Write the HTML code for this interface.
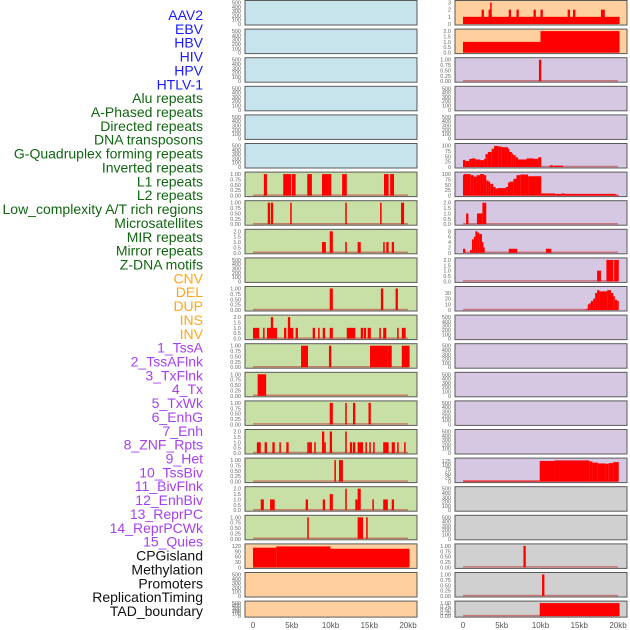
<!DOCTYPE html>
<html><head><meta charset="utf-8"><style>
html,body{margin:0;padding:0;background:#fff}
svg{display:block}
</style></head><body>
<svg id="chart" width="630" height="630" viewBox="0 0 630 630" xmlns="http://www.w3.org/2000/svg"></svg>
<script>
const trackLabels = ["AAV2","EBV","HBV","HIV","HPV","HTLV-1","Alu repeats","A-Phased repeats","Directed repeats","DNA transposons","G-Quadruplex forming repeats","Inverted repeats","L1 repeats","L2 repeats","Low_complexity A/T rich regions","Microsatellites","MIR repeats","Mirror repeats","Z-DNA motifs","CNV","DEL","DUP","INS","INV","1_TssA","2_TssAFlnk","3_TxFlnk","4_Tx","5_TxWk","6_EnhG","7_Enh","8_ZNF_Rpts","9_Het","10_TssBiv","11_BivFlnk","12_EnhBiv","13_ReprPC","14_ReprPCWk","15_Quies","CPGisland","Methylation","Promoters","ReplicationTiming","TAD_boundary"];
const labelColors = ["#1a1aff","#1a1aff","#1a1aff","#1a1aff","#1a1aff","#1a1aff","#116611","#116611","#116611","#116611","#116611","#116611","#116611","#116611","#116611","#116611","#116611","#116611","#116611","#ffa51a","#ffa51a","#ffa51a","#ffa51a","#ffa51a","#a640f0","#a640f0","#a640f0","#a640f0","#a640f0","#a640f0","#a640f0","#a640f0","#a640f0","#a640f0","#a640f0","#a640f0","#a640f0","#a640f0","#a640f0","#111","#111","#111","#111","#111"];
const xTickValues = [0,5000,10000,15000,20000];
const xTickLabels = ["0","5kb","10kb","15kb","20kb"];
const T500 = [0,100,200,300,400,500];
const T1 = [0,0.25,0.5,0.75,1.0];
const T2 = [0,0.5,1.0,1.5,2.0];
const L6 = [[1.4,1.8,1],[3.9,4.9,1],[5.0,5.5,1],[7.0,7.6,1],[8.9,9.8,1],[9.8,10.1,1],[11.5,12.1,1],[16.9,17.5,1],[17.7,18.2,1]];
const L7 = [[1.9,2.2,1],[2.3,2.6,1],[4.8,5.0,1],[11.9,12.1,1],[16.4,16.6,1],[19.1,19.5,1]];
const L8 = [[8.9,9.4,1],[9.9,10.3,2],[11.9,12.1,1],[13.5,13.9,1],[16.8,17.0,1],[17.2,17.5,1],[17.9,18.2,1]];
const L10 = [[9.9,10.3,1],[16.5,16.8,1],[18.4,18.7,1]];
const L11 = [[0,0.8,1],[1.3,1.5,1],[1.8,3.1,1],[2.3,2.6,2],[4.0,4.3,1],[4.5,5.2,1],[4.5,4.8,2],[5.5,5.8,1],[7.7,8.0,1],[8.4,8.6,1],[9.0,9.3,1],[9.9,10.3,1],[12.1,13.2,1],[13.9,14.2,1],[14.3,14.6,1],[14.8,15.2,1],[16.3,16.5,1],[16.8,17.2,1],[18.6,18.8,1],[19.2,19.7,1]];
const L12 = [[6.2,7.1,1],[9.8,10.1,1],[15.1,17.3,1],[17.3,17.9,1],[19.2,20.2,1]];
const L13 = [[0.6,1.7,1]];
const L14 = [[9.9,10.3,1],[11.9,12.1,1],[12.9,13.2,1],[14.9,15.2,1]];
const L15 = [[0.5,1.0,1],[1.5,1.8,1],[2.5,2.8,1],[3.4,3.6,1],[4.3,4.6,1],[7.0,7.2,1],[7.2,7.6,1],[7.9,8.1,1],[8.9,9.2,2],[9.2,9.4,1],[9.9,10.2,2],[11.9,12.1,2],[12.5,12.8,1],[12.9,13.2,1],[13.5,14.2,1],[14.5,14.7,1],[15.0,15.2,1],[15.5,15.7,1],[16.8,17.5,1],[17.9,18.3,1],[18.6,18.8,1],[19.5,19.7,1]];
const L16 = [[10.5,10.7,1],[11.1,11.6,1]];
const L17 = [[1.0,1.4,1],[2.2,2.8,1],[6.8,7.1,1],[9.0,9.3,1],[9.9,10.3,1.5],[11.9,12.1,2],[13.2,13.5,1],[13.5,13.9,2],[15.4,15.6,1],[16.8,17.4,1],[17.9,18.2,1]];
const L18 = [[7.0,7.2,1],[13.5,14.2,1],[14.6,14.8,1]];
const L19 = [[0,3,110],[3,10,117],[10,20.2,104]];
const R0 = [[0,20.2,1],[2.4,2.7,2],[3.3,3.7,2],[3.5,3.6,3],[5.9,6.2,2],[6.9,7.2,2],[9.1,9.4,2],[10.0,10.3,2],[13.5,13.8,2],[14.2,14.5,2],[17.8,18.3,2]];
const R1 = [[0,10,1],[10,20.2,2]];
const R2 = [[9.8,10.1,1]];
const R5 = [[0,0.3,33],[0.3,0.8,28],[0.8,1.1,37],[1.1,1.6,40],[1.6,2.2,35],[2.2,2.7,32],[2.7,2.9,37],[2.9,3.2,60],[3.2,3.7,70],[3.7,4.0,85],[4.0,4.6,98],[4.6,5.0,95],[5.0,5.8,92],[5.8,6.0,85],[6.0,6.3,70],[6.3,6.5,62],[6.5,6.8,55],[6.8,7.1,45],[7.1,8.2,35],[8.2,9.1,40],[9.1,9.7,38],[9.7,10.1,45],[11.2,11.6,8],[11.7,12.9,6]];
const R6 = [[0,0.1,95],[0.1,1.0,100],[1.0,1.4,95],[1.4,1.75,88],[1.75,2.2,95],[2.2,2.7,100],[2.7,3.0,95],[3.0,3.3,70],[3.3,3.5,65],[3.5,3.9,55],[3.9,4.2,40],[4.2,4.5,33],[4.5,5.5,35],[5.5,5.8,40],[5.8,6.0,60],[6.0,6.5,65],[6.5,6.9,78],[6.9,7.4,95],[7.4,8.4,98],[8.4,10.1,90],[10.1,11.9,10],[11.9,12.7,8],[12.7,13.1,10],[13.1,19.7,8],[19.7,20.1,3]];
const R7 = [[0.4,0.7,1],[1.8,2.5,1],[2.5,3.0,2]];
const R8 = [[0,0.3,1.5],[0.9,1.15,1],[1.15,1.4,5],[1.4,1.6,6],[1.6,1.85,8],[1.85,2.1,7.5],[2.1,2.45,7],[2.45,2.6,4],[2.6,2.8,2],[5.9,7.0,1.5],[10.7,11.4,1.5]];
const R9 = [[17.3,17.8,1],[18.5,19.4,2],[19.5,20.1,2]];
const R10 = [[15.9,16.1,2],[16.1,16.3,10],[16.3,16.5,12],[16.5,16.8,16],[16.8,17.05,20],[17.05,17.3,30],[17.3,17.6,35],[17.6,18.6,33],[18.6,19.1,35],[19.1,19.4,30],[19.4,19.6,24],[19.6,19.9,18],[19.9,20.1,16]];
const R16 = [[0,9.9,6],[9.9,11.8,125],[11.8,16.3,128],[16.3,16.7,122],[16.7,17.4,115],[17.4,18.4,110],[18.4,18.8,108],[18.8,19.4,112],[19.4,20.1,118]];
const R19 = [[7.8,8.1,1]];
const R20 = [[10.2,10.5,1]];
const R21 = [[9.9,20.2,1]];

const BL="#c7e3ec",GR="#c8e0a5",OR="#ffd09e",PU="#d6c8e2",GY="#d0d0d0";
const leftCol = [
 [BL,T500,null],[BL,T500,null],[BL,T500,null],[BL,T500,null],[BL,T500,null],[BL,T500,null],
 [GR,T1,L6],[GR,T1,L7],[GR,T2,L8],[GR,T500,null],[GR,T1,L10],[GR,T2,L11],[GR,T1,L12],[GR,T1,L13],
 [GR,T1,L14],[GR,T2,L15],[GR,T1,L16],[GR,T2,L17],[GR,T1,L18],[OR,[0,30,60,90,120],L19],[OR,T500,null],[OR,T500,null]];
const rightCol = [
 [OR,[0,1,2,3],R0],[OR,T2,R1],[PU,T1,R2],[PU,T500,null],[PU,T500,null],[PU,[0,25,50,75,100],R5],
 [PU,[0,25,50,75,100],R6],[PU,T2,R7],[PU,[0,2,4,6,8],R8],[PU,T2,R9],[PU,[0,10,20,30],R10,38],
 [PU,T500,null],[PU,T500,null],[PU,T500,null],[PU,T500,null],[PU,T500,null],[PU,[0,25,50,75,100,125],R16,130],
 [GY,T500,null],[GY,T500,null],[GY,T1,R19],[GY,T1,R20],[GY,T1,R21]];

const NS="http://www.w3.org/2000/svg";
const svg=document.getElementById('chart');
function mk(tag,attrs,parent){const e=document.createElementNS(NS,tag);for(const k in attrs)e.setAttribute(k,attrs[k]);(parent||svg).appendChild(e);return e;}
function fmt(v,ticks){const mx=ticks[ticks.length-1];if(mx<=1)return v.toFixed(2);if(mx<=2)return v.toFixed(1);return String(v);}

trackLabels.forEach((t,i)=>{
  const el=mk('text',{x:203,y:(20+i*13.86).toFixed(1),'text-anchor':'end','font-size':'14','font-family':'Liberation Sans, sans-serif',fill:labelColors[i]});
  el.textContent=t;
  
  
});

function drawCol(col,px0,px1,colName){
  const xs=(kb)=>(px0+8)+kb*((px1-px0-17)/20);
  col.forEach((spec,i)=>{
    const [bg,ticks,data,ymx]=spec;
    const top=0.5+28.6*i, h=(i===21?16:24.5), bot=top+h;
    const ymax=ymx||ticks[ticks.length-1];
    const ys=(v)=>bot-1-v/ymax*(h-3);
    const g=mk('g',{});
    
    
    mk('rect',{x:px0,y:top,width:px1-px0,height:h,fill:bg},g);
    if(data){
      mk('line',{x1:xs(0),x2:xs(20),y1:ys(0)-0.5,y2:ys(0)-0.5,stroke:'#c04040','stroke-opacity':0.6,'stroke-width':1.5},g);
      data.forEach(s=>{
        const r=mk('rect',{x:xs(s[0]).toFixed(2),y:ys(s[2]).toFixed(2),width:Math.max(1.5,xs(s[1])-xs(s[0])).toFixed(2),height:(ys(0)-ys(s[2])).toFixed(2),fill:'#ff0000'},g);
        
        
      });
    }
    mk('rect',{x:px0,y:top,width:px1-px0,height:h,fill:'none',stroke:'#5a5a5a','stroke-width':1},g);
    ticks.forEach(v=>{
      const t=mk('text',{x:px0-4,y:(ys(v)+2).toFixed(1),'text-anchor':'end','font-size':'5.5','font-family':'Liberation Sans, sans-serif',fill:'#666'},g);
      t.textContent=fmt(v,ticks);
      
      
    });
  });
  xTickValues.forEach((v,j)=>{
    const t=mk('text',{x:xs(v/1000),y:628,'text-anchor':'middle','font-size':'8','font-family':'Liberation Sans, sans-serif',fill:'#555'});
    t.textContent=xTickLabels[j];
    
    
  });
}
drawCol(leftCol,245,417,'left');
drawCol(rightCol,455,627,'right');
</script>
</body></html>
